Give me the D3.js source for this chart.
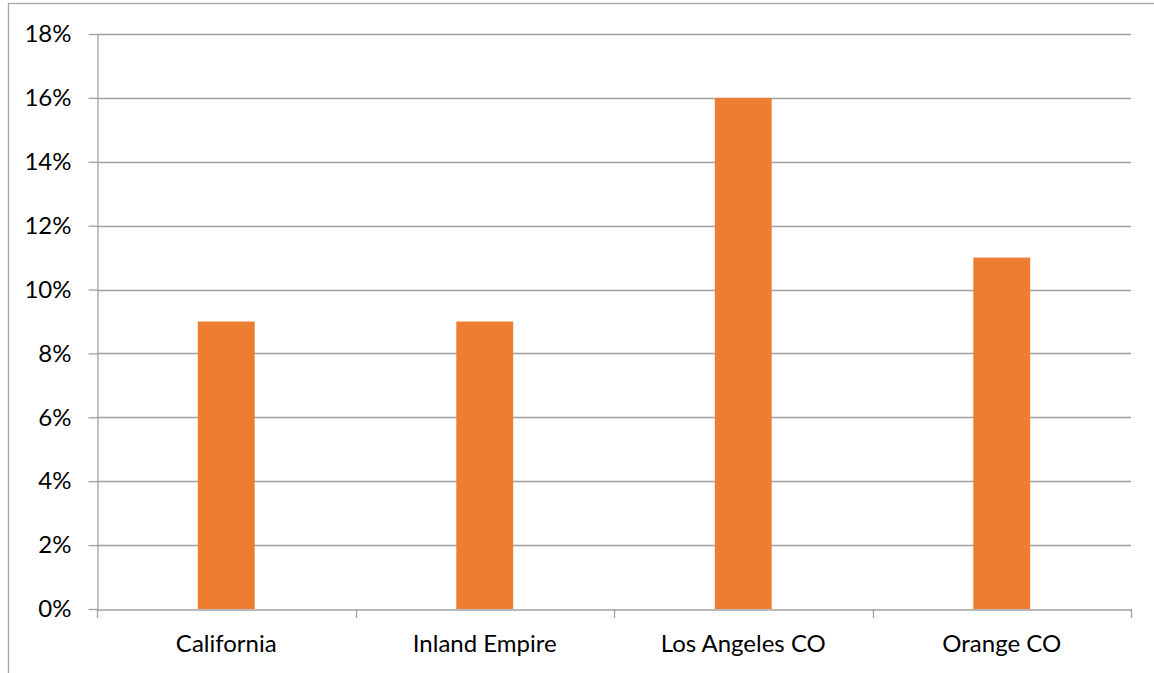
<!DOCTYPE html>
<html><head><meta charset="utf-8">
<script src="https://cdn.jsdelivr.net/npm/d3@7"></script>
<style>html,body{margin:0;padding:0;background:#fff;}svg{display:block;}</style>
</head><body>
<svg id="chart" width="1154" height="673"></svg>
<script>
const categories = ["California", "Inland Empire", "Los Angeles CO", "Orange CO"];
const values = [0.09, 0.09, 0.16, 0.11];
const yTicks = [0, 0.02, 0.04, 0.06, 0.08, 0.10, 0.12, 0.14, 0.16, 0.18];

(function () {
const svg = d3.select("#chart");
const font = "Lato, 'Open Sans', sans-serif";
const fs = 24;

// outer frame
svg.append("rect").attr("x", 8.5).attr("y", 3.5).attr("width", 1150).attr("height", 700)
  .attr("fill", "none").attr("stroke", "#a6a6a6").attr("stroke-width", 1.3);

const pLeft = 97, pRight = 1131, pTop = 34, pBottom = 609;
const x = d3.scaleBand().domain(categories).range([pLeft, pRight]).paddingInner(0).paddingOuter(0);
const y = d3.scaleLinear().domain([0, 0.18]).range([pBottom, pTop]);

// gridlines
svg.append("g").selectAll("line").data(yTicks.filter(d => d > 0)).join("line")
  .attr("x1", pLeft).attr("x2", pRight)
  .attr("y1", d => Math.round(y(d)) + 0.5).attr("y2", d => Math.round(y(d)) + 0.5)
  .attr("stroke", "#a0a0a0").attr("stroke-width", 1.3);

// y axis
const yAxis = svg.append("g").attr("transform", `translate(${pLeft + 0.5},0)`)
  .call(d3.axisLeft(y).tickValues(yTicks).tickFormat(d3.format(".0%")).tickSizeInner(9).tickSizeOuter(0).tickPadding(17));
yAxis.select(".domain").attr("stroke", "#a0a0a0").attr("stroke-width", 1.3);
yAxis.selectAll(".tick line").attr("stroke", "#a0a0a0").attr("stroke-width", 1.3);
yAxis.selectAll("text").attr("font-family", font).attr("font-size", fs).attr("fill", "#000");

// bars
const barW = x.bandwidth() * 0.22;
svg.append("g").selectAll("rect").data(categories).join("rect")
  .attr("x", (d) => x(d) + x.bandwidth() / 2 - barW / 2)
  .attr("y", (d, i) => y(values[i]))
  .attr("width", barW)
  .attr("height", (d, i) => y(0) - y(values[i]))
  .attr("fill", "#ed7d31");

// x axis
const xAxis = svg.append("g").attr("transform", `translate(0,${pBottom + 0.5})`)
  .call(d3.axisBottom(x).tickSize(0).tickPadding(25));
xAxis.select(".domain").attr("stroke", "#a0a0a0").attr("stroke-width", 1.3);
xAxis.selectAll("text").attr("font-family", font).attr("font-size", fs).attr("fill", "#000");
// category boundary ticks
const bounds = categories.map(d => x(d)).concat([pRight]);
svg.append("g").selectAll("line").data(bounds).join("line")
  .attr("x1", d => Math.round(d) + 0.5).attr("x2", d => Math.round(d) + 0.5)
  .attr("y1", pBottom).attr("y2", pBottom + 9)
  .attr("stroke", "#a0a0a0").attr("stroke-width", 1.3);
})();
</script>
</body></html>
